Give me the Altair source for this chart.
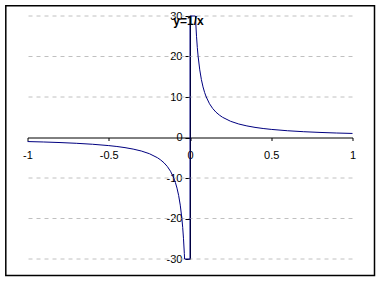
import altair as alt
import pandas as pd

# curve points (y = 1/x, clipped at +/-30)
x_vals = [-1, -0.9, -0.8, -0.7, -0.6, -0.5, -0.45, -0.4, -0.35, -0.3, -0.25, -0.2,
          -0.18, -0.16, -0.14, -0.12, -0.1, -0.09, -0.08, -0.07, -0.06, -0.05,
          -0.045, -0.04, -0.035, -0.0333, 0,
          0, 0.0333, 0.035, 0.04, 0.045, 0.05, 0.06, 0.07, 0.08, 0.09, 0.1,
          0.12, 0.14, 0.16, 0.18, 0.2, 0.25, 0.3, 0.35, 0.4, 0.45, 0.5,
          0.6, 0.7, 0.8, 0.9, 1]
y_vals = [-1, -1.11, -1.25, -1.43, -1.67, -2, -2.22, -2.5, -2.86, -3.33, -4, -5,
          -5.56, -6.25, -7.14, -8.33, -10, -11.1, -12.5, -14.3, -16.7, -20,
          -22.2, -25, -28.6, -30, -30,
          30, 30, 28.6, 25, 22.2, 20, 16.7, 14.3, 12.5, 11.1, 10,
          8.33, 7.14, 6.25, 5.56, 5, 4, 3.33, 2.86, 2.5, 2.22, 2,
          1.67, 1.43, 1.25, 1.11, 1]
x_ticks = [-1, -0.5, 0, 0.5, 1]
y_ticks = [-30, -20, -10, 0, 10, 20, 30]
grid_vals = [-30, -20, -10, 10, 20, 30]
title_text = "y=1/x"

W, H = 325, 243
FONT = "Liberation Sans"

df = pd.DataFrame({"x": x_vals, "y": y_vals, "i": list(range(len(x_vals)))})
gdf = pd.DataFrame({"g": grid_vals})

xs = alt.Scale(domain=[-1, 1], nice=False, zero=False)
ys = alt.Scale(domain=[-30, 30], nice=False, zero=False)

border = alt.Chart(pd.DataFrame({"a": [0]})).mark_rect(
    fill=None, stroke="black", strokeWidth=1.5
).encode(
    x=alt.value(-21.7), x2=alt.value(347), y=alt.value(-10.2), y2=alt.value(259.5)
)

grid = alt.Chart(gdf).mark_rule(
    color="#c0c0c0", strokeDash=[4, 4], strokeWidth=1
).encode(y=alt.Y("g:Q", scale=ys, axis=None))

axes = alt.Chart(df).mark_point(opacity=0).encode(
    x=alt.X("x:Q", scale=xs, axis=alt.Axis(
        values=x_ticks, orient="bottom", offset=-(H / 2), grid=False,
        domainColor="black", domainWidth=1, tickColor="black", tickSize=3,
        labelPadding=9, labelFont=FONT, labelFontSize=11, labelColor="black",
        labelExpr="toString(datum.value)", labelFlush=False, title=None)),
    y=alt.Y("y:Q", scale=ys, axis=alt.Axis(
        values=y_ticks, orient="left", offset=-(W / 2), grid=False,
        domainColor="black", domainWidth=1, tickColor="black", tickSize=5,
        labelPadding=3, labelFont=FONT, labelFontSize=11, labelColor="black",
        labelExpr="toString(datum.value)", labelFlush=False, labelBound=False,
        labelOverlap=False, title=None)),
)

curve = alt.Chart(df).mark_line(color="#000080", strokeWidth=1).encode(
    x=alt.X("x:Q", scale=xs, axis=None),
    y=alt.Y("y:Q", scale=ys, axis=None),
    order="i:Q",
)

title = alt.Chart(pd.DataFrame({"t": [title_text]})).mark_text(
    font=FONT, fontSize=12, fontWeight="bold", color="black",
    align="center", baseline="alphabetic"
).encode(text="t:N", x=alt.value(161), y=alt.value(8.5))

chart = alt.layer(border, grid, axes, curve, title).properties(
    width=W, height=H,
    autosize=alt.AutoSizeParams(type="none"),
    padding={"left": 27.5, "top": 16, "right": 28.5, "bottom": 23},
    background="white",
).resolve_axis(x="independent", y="independent").configure_view(stroke=None)

chart.save("out.html", embed_options={"renderer": "svg", "actions": False})
